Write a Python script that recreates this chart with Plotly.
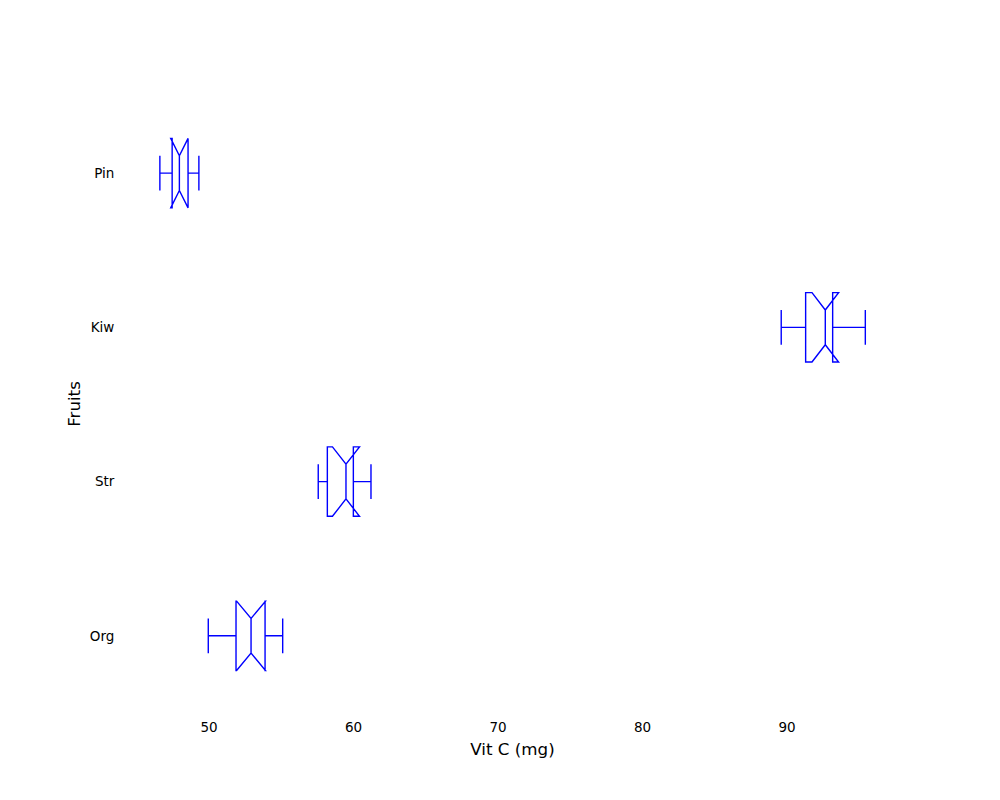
import plotly.graph_objects as go

fruits = ["Org", "Str", "Kiw", "Pin"]
positions = [1, 2, 3, 4]
q1 = [51.87, 58.19, 91.29, 47.45]
median = [52.91, 59.48, 92.65, 47.95]
q3 = [53.88, 59.99, 93.16, 48.55]
lowerfence = [49.95, 57.56, 89.60, 46.60]
upperfence = [55.10, 61.21, 95.42, 49.30]
notchspan = [1.00, 0.935, 0.92, 0.60]
x_ticks = [50, 60, 70, 80, 90]

fig = go.Figure()
fig.add_trace(go.Box(
    y=positions,
    q1=q1, median=median, q3=q3,
    lowerfence=lowerfence, upperfence=upperfence,
    notched=True, notchspan=notchspan, notchwidth=0.25,
    orientation="h",
    width=0.45,
    whiskerwidth=0.5,
    line=dict(color="#0000ff", width=1.4),
    fillcolor="rgba(0,0,0,0)",
    boxpoints=False,
    hoverinfo="skip",
    showlegend=False,
))

fig.update_layout(
    width=1000, height=800,
    margin=dict(l=117, r=108, t=88, b=96),
    paper_bgcolor="white", plot_bgcolor="white",
    font=dict(family="DejaVu Sans", size=13, color="black"),
    xaxis=dict(
        range=[44.187, 97.82], tickvals=x_ticks,
        ticktext=[str(v) for v in x_ticks],
        showgrid=False, zeroline=False, showline=False,
        ticks="outside", ticklen=3, tickcolor="rgba(0,0,0,0)",
        tickfont=dict(family="DejaVu Sans", size=13.5),
        title=dict(text="Vit C (mg)", font=dict(family="DejaVu Sans", size=16.7), standoff=9),
    ),
    yaxis=dict(
        range=[0.506, 4.5], tickvals=positions, ticktext=fruits,
        showgrid=False, zeroline=False, showline=False,
        ticks="outside", ticklen=7, tickcolor="rgba(0,0,0,0)",
        tickfont=dict(family="DejaVu Sans", size=13.5),
        title=dict(text="Fruits", font=dict(family="DejaVu Sans", size=16.7), standoff=4),
    ),
)

fig.write_html("out.html")
